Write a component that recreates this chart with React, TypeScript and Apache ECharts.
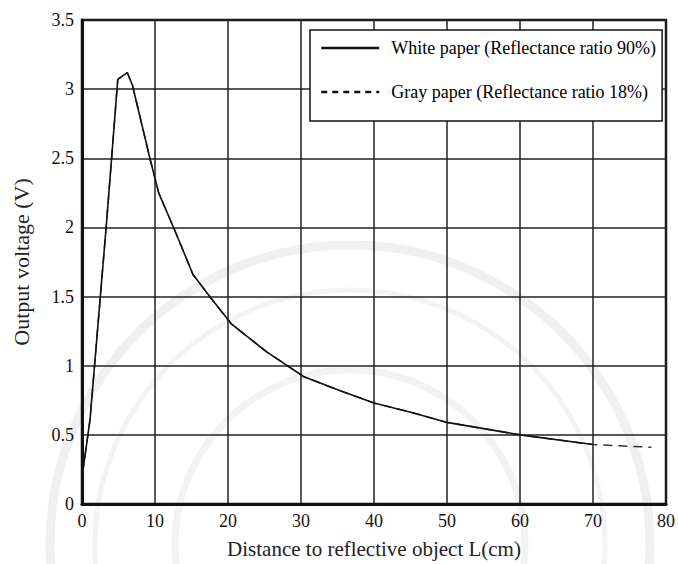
import React, { useEffect, useRef } from "react";
import * as echarts from "echarts";

// Distance to the reflective object (cm)
const whiteDistance = [0.1, 1.1, 3.4, 4.9, 6.2, 6.9, 9.3, 10.5, 12.7, 15.2, 17.5, 20.5, 25.3, 30.4, 35.3, 40, 45.3, 50, 60, 70];
// Output voltage (V) for white paper (reflectance 90%)
const whiteVoltage = [0.23, 0.61, 2.06, 3.07, 3.12, 3.03, 2.5, 2.25, 1.98, 1.66, 1.5, 1.3, 1.1, 0.92, 0.82, 0.73, 0.66, 0.59, 0.5, 0.43];

// Gray paper (reflectance 18%) follows the same curve and runs a little further
const grayDistance = [0.1, 1.1, 3.4, 4.9, 6.2, 6.9, 9.3, 10.5, 12.7, 15.2, 17.5, 20.5, 25.3, 30.4, 35.3, 40, 45.3, 50, 60, 70, 78];
const grayVoltage = [0.23, 0.61, 2.06, 3.07, 3.12, 3.03, 2.5, 2.25, 1.98, 1.66, 1.5, 1.3, 1.1, 0.92, 0.82, 0.73, 0.66, 0.59, 0.5, 0.43, 0.41];

const xTicks = ["0", "10", "20", "30", "40", "50", "60", "70", "80"];
const yTicks = ["0", "0.5", "1", "1.5", "2", "2.5", "3", "3.5"];

const seriesNames = ["White paper (Reflectance ratio 90%)", "Gray paper (Reflectance ratio 18%)"];

const FONT = "'Liberation Serif', 'DejaVu Serif', serif";
const INK = "#111";

export default function App() {
  const ref = useRef<HTMLDivElement>(null);

  useEffect(() => {
    document.body.style.margin = "0";
    if (!ref.current) return;
    const chart = echarts.init(ref.current, undefined, { renderer: "svg" });

    const pair = (xs: number[], ys: number[]) => xs.map((x, i) => [x, ys[i]]);

    chart.setOption({
      animation: false,
      backgroundColor: "#fff",
      graphic: [
        // faint seal watermark behind the plot
        { type: "circle", z: -10, silent: true, shape: { cx: 350, cy: 545, r: 300 }, style: { fill: "none", stroke: "#f0f0f0", lineWidth: 9 } },
        { type: "circle", z: -10, silent: true, shape: { cx: 350, cy: 545, r: 255 }, style: { fill: "none", stroke: "#f3f3f3", lineWidth: 5 } },
        { type: "circle", z: -10, silent: true, shape: { cx: 350, cy: 545, r: 175 }, style: { fill: "none", stroke: "#f3f3f3", lineWidth: 7 } },
      ],
      grid: {
        left: 82,
        right: 11,
        top: 20,
        bottom: 59,
        show: true,
        borderColor: INK,
        borderWidth: 2.5,
        backgroundColor: "transparent",
      },
      legend: {
        orient: "vertical",
        left: 310,
        top: 30,
        padding: [9, 6, 20, 10],
        itemGap: 26,
        itemWidth: 58,
        itemHeight: 12,
        borderColor: INK,
        borderWidth: 1.5,
        backgroundColor: "#fff",
        itemStyle: { opacity: 0 },
        data: [
          { name: seriesNames[0], itemStyle: { opacity: 0 }, lineStyle: { color: INK, width: 2.5, type: "solid" } },
          { name: seriesNames[1], itemStyle: { opacity: 0 }, lineStyle: { color: INK, width: 2.5, type: [6, 5] } },
        ],
        textStyle: { fontFamily: FONT, fontSize: 18, color: "#000", padding: [0, 0, 0, 7] },
      },
      xAxis: {
        type: "value",
        min: 0,
        max: 80,
        interval: 10,
        name: "Distance to reflective object L(cm)",
        nameLocation: "middle",
        nameGap: 34,
        nameTextStyle: { fontFamily: FONT, fontSize: 21, color: "#222" },
        axisLine: { show: true, lineStyle: { color: INK, width: 3 } },
        axisTick: { show: false },
        axisLabel: {
          fontFamily: FONT,
          fontSize: 18,
          color: INK,
          margin: 8,
          formatter: (v: number) => xTicks[Math.round(v / 10)] ?? "",
        },
        splitLine: { show: true, lineStyle: { color: "#222", width: 1.5 } },
      },
      yAxis: {
        type: "value",
        min: 0,
        max: 3.5,
        interval: 0.5,
        name: "Output voltage (V)",
        nameLocation: "middle",
        nameRotate: 90,
        nameGap: 50,
        nameTextStyle: { fontFamily: FONT, fontSize: 22, color: "#222" },
        axisLine: { show: true, lineStyle: { color: INK, width: 3 } },
        axisTick: { show: false },
        axisLabel: {
          fontFamily: FONT,
          fontSize: 18,
          color: INK,
          margin: 8,
          formatter: (v: number) => yTicks[Math.round(v / 0.5)] ?? "",
        },
        splitLine: { show: true, lineStyle: { color: "#222", width: 1.5 } },
      },
      series: [
        {
          name: seriesNames[1],
          type: "line",
          data: pair(grayDistance, grayVoltage),
          symbol: "none",
          z: 2,
          itemStyle: { color: INK },
          lineStyle: { color: "#333", width: 1.5, type: [9, 6] },
        },
        {
          name: seriesNames[0],
          type: "line",
          data: pair(whiteDistance, whiteVoltage),
          symbol: "none",
          z: 3,
          itemStyle: { color: INK },
          lineStyle: { color: INK, width: 1.6, type: "solid" },
        },
      ],
    });

    return () => chart.dispose();
  }, []);

  return <div ref={ref} style={{ width: 678, height: 564 }} />;
}
